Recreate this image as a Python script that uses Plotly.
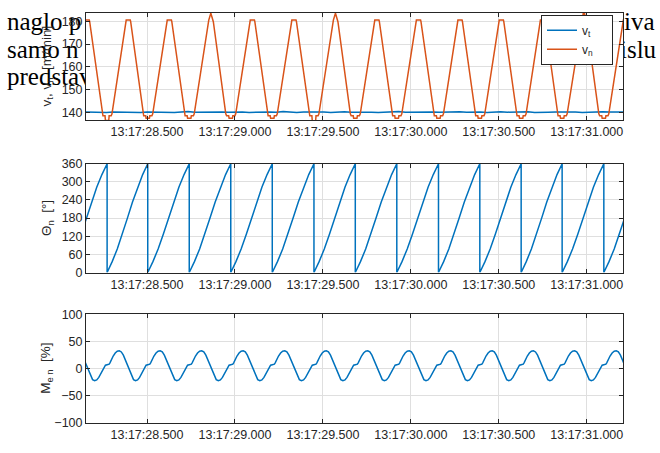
import numpy as np
import pandas as pd
import plotly.graph_objects as go

# ---------------- data (seconds after 13:17:00) ----------------
view_start, view_end = 28.153, 31.206
tick_secs = [28.5, 29.0, 29.5, 30.0, 30.5, 31.0]

# instants where Θn wraps from 360° to 0° (first/last lie just outside the view)
wrap_times = [28.037, 28.273, 28.504, 28.740, 28.976, 29.212, 29.449,
              29.684, 29.920, 30.157, 30.392, 30.627, 30.860, 31.097, 31.333]

# Θn across one revolution (fraction of revolution -> degrees)
theta_phase = [0.0, 0.125, 0.25, 0.375, 0.5, 0.625, 0.75, 0.875, 1.0]
theta_deg = [0, 36, 78, 127, 180, 233, 282, 324, 360]

# v_n across one revolution ("T0" trough at this wrap, "P" peak, "T1" trough at next wrap)
vn_phase = [0.00, 0.04, 0.05, 0.10, 0.12, 0.46, 0.47, 0.52, 0.57, 0.58, 0.88, 0.90, 0.95, 0.96]
vn_level = ["T0", "T0", 138.6, 138.6, 139.5, 179.8, 180.5, "P", 180.5, 179.8, 139.5, 138.6, 138.6, "T1"]
vn_trough = [137.5, 136.5, 137.5, 137.5, 137.5, 137.5, 136.3, 137.5,
             137.5, 137.5, 137.5, 137.5, 137.5, 137.5, 137.5]          # one per wrap
vn_peak = [180.5, 180.5, 180.5, 183.5, 180.5, 180.5, 183.5,
           180.5, 180.5, 180.5, 180.5, 180.5, 185.0, 180.5]           # one per revolution

# M_en across one revolution
m_phase = [0.00, 0.05, 0.07, 0.10, 0.15, 0.20, 0.25, 0.30, 0.35, 0.40, 0.45,
           0.50, 0.55, 0.60, 0.65, 0.70, 0.75, 0.80, 0.85, 0.90, 0.94, 0.96]
m_level = [7.5, 8.5, 11, 16, 23.5, 29, 32.3, 33, 31, 25, 16,
           5.5, -5, -14, -20, -22, -20.5, -16, -9.5, -2.5, 3.5, 6.5]

# v_t samples, evenly spaced across the view
vt = [140.3, 140.2, 140.4, 140.1, 140.3, 140.2, 140.4, 140.3, 140.0, 140.3,
      140.2, 140.4, 140.3, 140.1, 140.3, 140.5, 140.2, 140.3, 140.1, 140.4,
      140.3, 140.2, 140.4, 140.3, 140.1, 140.2, 140.4, 140.3, 140.2, 140.5,
      140.3, 140.1, 140.3, 140.4, 140.2, 140.3, 140.1, 140.3, 140.4, 140.2,
      140.3, 140.4, 140.2, 140.1, 140.3, 140.3, 140.5, 140.2, 140.3, 140.1,
      140.4, 140.3, 140.2, 140.3, 140.1, 140.4, 140.2, 140.3, 140.3, 140.1,
      140.3, 140.4, 140.2, 140.3, 140.2, 140.4, 140.1, 140.3, 140.2, 140.3,
      140.4, 140.2, 140.3, 140.1, 140.3, 140.2, 140.4, 140.3, 140.2, 140.3]

# overlapping page text (left / right of the figure)
page_text_left = ["naglo p", "samo n", "predstav"]
page_text_right = ["iva", "islu"]

# ---------------- build series ----------------
BASE = pd.Timestamp("2020-01-01 13:17:00")


def ts(secs):
    return [BASE + pd.to_timedelta(s, unit="s") for s in secs]


th_t, th_v, vn_t, vn_v, m_t, m_v = [], [], [], [], [], []
for i in range(len(wrap_times) - 1):
    s, e = wrap_times[i], wrap_times[i + 1]
    P = e - s
    for f, d in zip(theta_phase, theta_deg):
        th_t.append(s + f * P); th_v.append(d)
    for f, lv in zip(vn_phase, vn_level):
        val = {"T0": vn_trough[i], "T1": vn_trough[i + 1], "P": vn_peak[i]}.get(lv, lv)
        vn_t.append(s + f * P); vn_v.append(val)
    for f, lv in zip(m_phase, m_level):
        m_t.append(s + f * P); m_v.append(lv)

vt_t = np.linspace(view_start, view_end, len(vt))

blue = "#0072BD"
orange = "#D95319"
axcol = "#262626"
gridcol = "#dfdfdf"
FONT = "Liberation Sans"
PAD = "\u00a0" * 4

fig = go.Figure()

# page text layer (drawn first so the axes backgrounds cover it)
fig.add_trace(go.Scatter(
    x=[7, 7, 7, 624, 620], y=[17, 46, 74, 17, 46],
    text=page_text_left + page_text_right, mode="text",
    textposition="middle right",
    textfont=dict(family="Liberation Serif", size=25, color="black"),
    xaxis="x", yaxis="y", showlegend=False, hoverinfo="skip"))

fig.add_trace(go.Scatter(x=ts(vt_t), y=vt, mode="lines", name="v<sub>t</sub>" + PAD,
                         line=dict(color=blue, width=1.5), xaxis="x2", yaxis="y2"))
fig.add_trace(go.Scatter(x=ts(vn_t), y=vn_v, mode="lines", name="v<sub>n</sub>" + PAD,
                         line=dict(color=orange, width=1.5), xaxis="x2", yaxis="y2"))
fig.add_trace(go.Scatter(x=ts(th_t), y=th_v, mode="lines", showlegend=False,
                         line=dict(color=blue, width=1.5), xaxis="x3", yaxis="y3"))
fig.add_trace(go.Scatter(x=ts(m_t), y=m_v, mode="lines", showlegend=False,
                         line=dict(color=blue, width=1.5), xaxis="x4", yaxis="y4"))

W, H = 660, 453
xdom = [86 / W, 623 / W]
ydoms = [[1 - 117 / H, 1 - 5.7 / H], [1 - 274 / H, 1 - 161.7 / H], [1 - 429.3 / H, 1 - 317.3 / H]]

xrange_ = [str(t) for t in ts([view_start, view_end])]
xtick = ts(tick_secs)

common_x = dict(type="date", range=xrange_, tickvals=xtick, tickformat="%H:%M:%S.%L",
                showgrid=True, gridcolor=gridcol, gridwidth=1, showline=True,
                linecolor=axcol, linewidth=1, mirror="ticks", ticks="inside",
                ticklen=4, tickcolor=axcol, zeroline=False,
                tickfont=dict(family=FONT, size=12.5, color=axcol), domain=xdom)
common_y = dict(showgrid=True, gridcolor=gridcol, gridwidth=1, showline=True,
                linecolor=axcol, linewidth=1, mirror="ticks", ticks="inside",
                ticklen=4, tickcolor=axcol, zeroline=False,
                tickfont=dict(family=FONT, size=12.5, color=axcol))

fig.update_layout(
    width=W, height=H, margin=dict(l=0, r=0, t=0, b=0),
    paper_bgcolor="white", plot_bgcolor="white",
    xaxis=dict(domain=[0, 1], range=[0, W], visible=False, fixedrange=True),
    yaxis=dict(domain=[0, 1], range=[H, 0], visible=False, fixedrange=True),
    xaxis2=dict(common_x, anchor="y2"),
    yaxis2=dict(common_y, domain=ydoms[0], anchor="x2", range=[136.6, 183.8],
                tickvals=[140, 150, 160, 170, 180]),
    xaxis3=dict(common_x, anchor="y3"),
    yaxis3=dict(common_y, domain=ydoms[1], anchor="x3", range=[0, 360],
                tickvals=[0, 60, 120, 180, 240, 300, 360]),
    xaxis4=dict(common_x, anchor="y4"),
    yaxis4=dict(common_y, domain=ydoms[2], anchor="x4", range=[-100, 100],
                tickvals=[-100, -50, 0, 50, 100]),
    legend=dict(x=541 / W, y=1 - 8 / H, xanchor="left", yanchor="top",
                bgcolor="white", bordercolor=axcol, borderwidth=1,
                font=dict(family=FONT, size=12, color=axcol)),
    showlegend=True,
)

ylabels = ["v<sub>t</sub>, v<sub>n</sub>  [m/min]", "Θ<sub>n</sub>  [°]", "M<sub>e n</sub>  [%]"]
for lab, dom in zip(ylabels, ydoms):
    fig.add_annotation(text=lab, xref="paper", yref="paper", x=47 / W, y=(dom[0] + dom[1]) / 2,
                       xanchor="center", yanchor="middle", textangle=-90, showarrow=False,
                       font=dict(family=FONT, size=13.5, color=axcol))

fig.write_html("out.html", config={"displayModeBar": False},
               post_script="document.body.style.margin='0px';document.body.style.overflow='hidden';")
